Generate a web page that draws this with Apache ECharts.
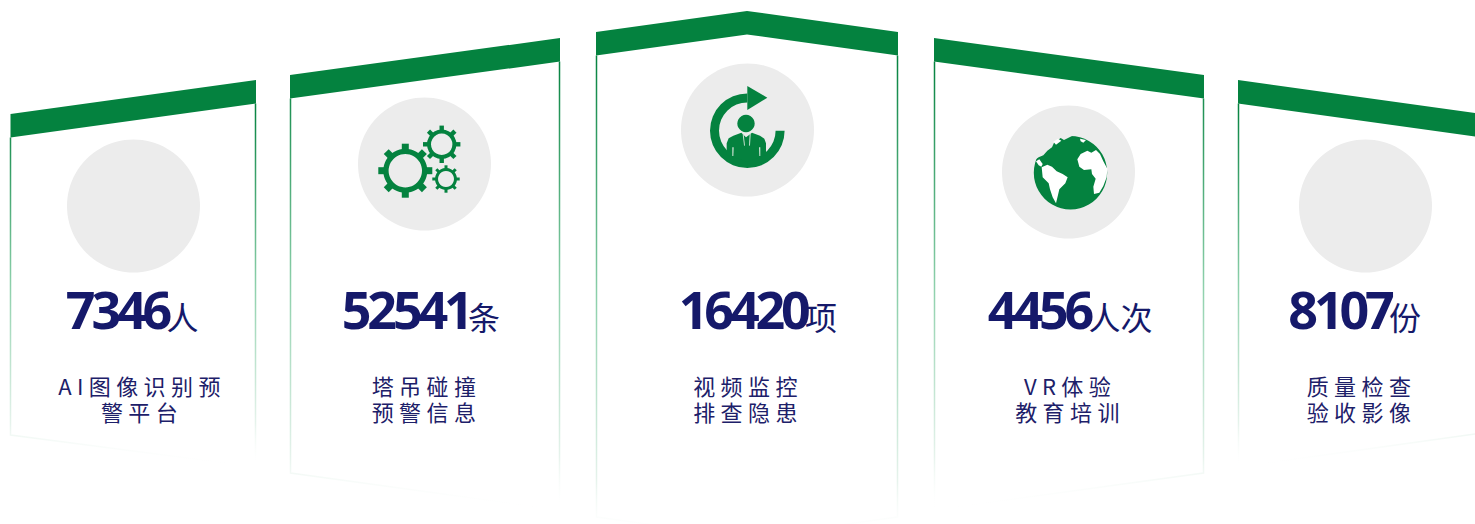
<!DOCTYPE html>
<html>
<head>
<meta charset="utf-8">
<style>
html,body{margin:0;padding:0;background:#fff}
#chart{width:1475px;height:524px}
/* zrender has no letter-spacing option, so it is set on the SVG text nodes */
#chart text[style*="52px"]{letter-spacing:-4.2px}
#chart text[style*="22px"]{letter-spacing:5.4px}
</style>
<script src="https://cdn.jsdelivr.net/npm/echarts@6/dist/echarts.min.js"></script>
</head>
<body>
<div id="chart"></div>
<script>
// Statistics shown on the five cards
const values = [7346, 52541, 16420, 4456, 8107];
const units = ['人', '条', '项', '人次', '份'];
const titleRows = [
  ['AI图像识别预', '警平台'],
  ['塔吊碰撞', '预警信息'],
  ['视频监控', '排查隐患'],
  ['VR体验', '教育培训'],
  ['质量检查', '验收影像']
];

// Card geometry, one entry per card: outline corners and band offsets
const cards = [
  { l: 10.5, r: 255.5, top: [[10.5, 114], [256, 80]], bottom: [[10.5, 435], [255.5, 467]], c: [133.5, 206], split: 168, tx: 139.5, icon: null },
  { l: 290.5, r: 559.5, top: [[290, 75], [560, 38]], bottom: [[290.5, 473], [559.5, 510]], c: [424.5, 164], split: 469.5, tx: 424, icon: 'gears' },
  { l: 596.5, r: 897.5, top: [[596, 32], [747, 11], [898, 32]], bottom: [[596.5, 517], [747, 538], [897.5, 517]], c: [747.5, 130], split: 806.5, tx: 745.5, icon: 'person' },
  { l: 934.5, r: 1203.5, top: [[934, 38], [1204, 75]], bottom: [[934.5, 510], [1203.5, 473]], c: [1068.5, 172], split: 1090, tx: 1067.5, icon: 'globe' },
  { l: 1238.5, r: 1483, top: [[1238, 80], [1483, 114]], bottom: [[1238.5, 467], [1483, 433]], c: [1365.5, 206], split: 1390.5, tx: 1359, icon: null }
];

const GREEN = '#04823f';
const DISC = '#ececec';
const NAVY = '#15196a';
const TITLE = '#1d2069';
const BAND = 23.5;

function poly(points, fill) {
  return { type: 'polygon', shape: { points }, style: { fill } };
}

// A toothed wheel: ring plus radial rectangular teeth
function gear(cx, cy, rIn, rOut, rTip, toothW, teeth, phase) {
  const parts = [{ type: 'ring', shape: { cx, cy, r0: rIn, r: rOut }, style: { fill: GREEN } }];
  for (let i = 0; i < teeth; i++) {
    const a = phase + i * 2 * Math.PI / teeth;
    const ux = Math.cos(a), uy = Math.sin(a), vx = -uy, vy = ux, h = toothW / 2, b = rOut - 1;
    parts.push(poly([
      [cx + ux * b + vx * h, cy + uy * b + vy * h],
      [cx + ux * rTip + vx * h, cy + uy * rTip + vy * h],
      [cx + ux * rTip - vx * h, cy + uy * rTip - vy * h],
      [cx + ux * b - vx * h, cy + uy * b - vy * h]
    ], GREEN));
  }
  return parts;
}

function gearsIcon() {
  return [].concat(
    gear(405.3, 170.7, 16.7, 22, 27, 7, 8, 0),
    gear(441.7, 144.3, 10.7, 14.7, 18.7, 4.4, 8, 0),
    gear(446, 179, 8, 11, 13.7, 3, 8, 0)
  );
}

// Circular arrow around a figure in a suit; local units are a 3x grid from (670,60)
function personIcon() {
  const g = pts => pts.map(p => [670 + p[0] / 3, 60 + p[1] / 3]);
  const slit = '#cfe3d6';
  return [
    { type: 'sector', shape: { cx: 747.3, cy: 130.7, r0: 28.3, r: 37.3, startAngle: 0, endAngle: Math.PI * 1.5, clockwise: true }, style: { fill: GREEN } },
    poly(g([[232, 78], [292, 113], [232, 150]]), GREEN),
    { type: 'circle', shape: { cx: 746, cy: 123.5, r: 8.7 }, style: { fill: GREEN } },
    poly(g([[170, 285], [170, 250], [176, 235], [190, 227], [214, 218], [228, 232], [246, 218], [270, 227], [283, 236], [288, 250], [288, 285], [232, 305]]), GREEN),
    poly(g([[187, 262], [191, 262], [190, 288], [187, 288]]), slit),
    poly(g([[267, 262], [271, 262], [271, 288], [268, 288]]), slit),
    poly(g([[218, 222], [221, 222], [225, 258], [222, 256]]), slit),
    poly(g([[239, 222], [242, 222], [240, 256], [237, 258]]), slit)
  ];
}

// Globe silhouette with white land masses; local units are a 3x grid from (990,100)
function globeIcon() {
  const g = pts => pts.map(p => [990 + p[0] / 3, 100 + p[1] / 3]);
  const W = '#ffffff';
  return [
    { type: 'circle', shape: { cx: 1070.5, cy: 172.7, r: 36.7 }, style: { fill: GREEN } },
    // upper-left limb is eaten away by the northern coastline
    poly(g([[118, 100], [248, 100], [246, 108], [222, 120], [212, 114], [192, 128], [186, 142], [172, 152], [160, 166], [146, 172], [134, 180], [118, 190]]), DISC),
    poly(g([[138, 184], [148, 178], [158, 192], [154, 200], [146, 196]]), W),
    poly(g([[155, 202], [172, 194], [186, 200], [200, 214], [218, 222], [233, 232], [226, 250], [208, 268], [204, 285], [198, 310], [188, 292], [180, 268], [176, 250], [158, 232]]), W),
    poly(g([[262, 178], [272, 162], [292, 152], [304, 158], [318, 150], [330, 162], [340, 184], [352, 206], [350, 232], [340, 258], [328, 278], [312, 282], [310, 260], [317, 236], [306, 222], [304, 208], [282, 210], [268, 200]]), W),
    poly(g([[190, 125], [204, 116], [214, 122], [198, 134]]), W),
    poly(g([[270, 116], [288, 120], [280, 128], [272, 124]]), W)
  ];
}

const icons = { gears: gearsIcon, person: personIcon, globe: globeIcon };

function label(text, x, y, align, font, fill) {
  return { type: 'text', style: { text, x, y, align, verticalAlign: 'middle', font, fill } };
}

function cardGraphic(i) {
  const card = cards[i];
  const lower = card.top.map(p => [p[0], p[1] + BAND]);
  const outline = [[card.l, lower[0][1]]]
    .concat(card.bottom)
    .concat([[card.r, lower[lower.length - 1][1]]]);
  const children = [
    {
      type: 'polyline',
      shape: { points: outline },
      style: {
        fill: 'none',
        lineWidth: 1.5,
        stroke: new echarts.graphic.LinearGradient(0, 0, 0, 1, [
          { offset: 0, color: '#04823f' },
          { offset: 0.5, color: '#8dd0ab' },
          { offset: 0.88, color: '#e6f3ec' },
          { offset: 1, color: 'rgba(255,255,255,0)' }
        ])
      }
    },
    poly(card.top.concat(lower.slice().reverse()), GREEN),
    { type: 'circle', shape: { cx: card.c[0], cy: card.c[1], r: 66.5 }, style: { fill: DISC } }
  ];
  if (card.icon) children.push(...icons[card.icon]());
  children.push(
    label(String(values[i]), card.split, 308.5, 'right', 'bold 52px "Open Sans","Noto Sans CJK SC"', NAVY),
    label(units[i], card.split - 1.5, 316, 'left', '32px "Noto Sans CJK SC"', NAVY)
  );
  titleRows[i].forEach((row, k) => {
    children.push(label(row, card.tx + 2.5, 385 + k * 26, 'center', '22px "Noto Sans CJK SC"', TITLE));
  });
  return { type: 'group', children };
}

const chart = echarts.init(document.getElementById('chart'), null, { renderer: 'svg' });
chart.setOption({
  backgroundColor: '#ffffff',
  animation: false,
  series: [{
    type: 'custom',
    coordinateSystem: 'none',
    silent: true,
    data: values.map((v, i) => [i, v]),
    renderItem: params => cardGraphic(params.dataIndex)
  }]
});
</script>
</body>
</html>
